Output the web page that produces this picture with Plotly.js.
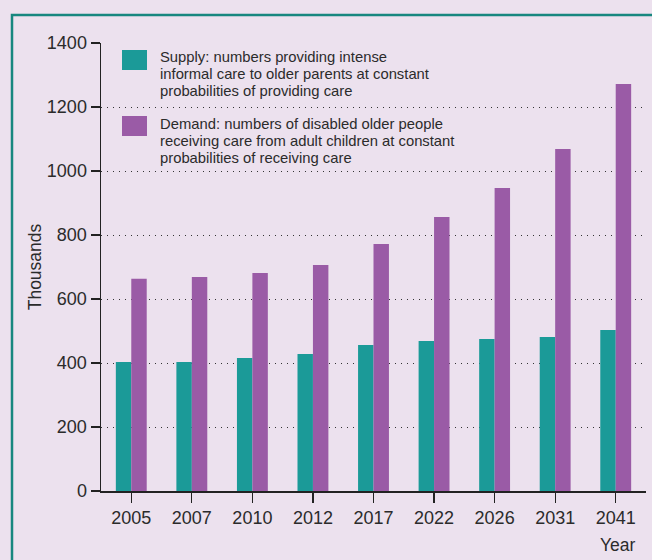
<!DOCTYPE html>
<html>
<head>
<meta charset="utf-8">
<script src="https://cdn.plot.ly/plotly-3.0.1.min.js"></script>
<style>
html,body{margin:0;padding:0;background:#ece1ee;}
#chart{width:652px;height:560px;}
</style>
</head>
<body>
<div id="chart"></div>
<script>
const years = ["2005","2007","2010","2012","2017","2022","2026","2031","2041"];
const supply = [403, 403, 416, 428, 456, 469, 475, 481, 503];
const demand = [663, 669, 681, 706, 772, 856, 947, 1069, 1272];
const supplyLines = ["Supply: numbers providing intense", "informal care to older parents at constant", "probabilities of providing care"];
const demandLines = ["Demand: numbers of disabled older people", "receiving care from adult children at constant", "probabilities of receiving care"];
const yTicks = [0, 200, 400, 600, 800, 1000, 1200, 1400];

const W = 652, H = 560;
const L = 101, R = 6, T = 43, B = 69;
const pw = W - L - R, ph = H - T - B;
const px = x => (x - L) / pw;
const py = y => (H - B - y) / ph;

const teal = "#1b9a98", purple = "#9a5ba6", textCol = "#2b2b2b";

const data = [
  {type: "bar", x: years, y: supply, name: "Supply", marker: {color: teal}, showlegend: false, hoverinfo: "x+y"},
  {type: "bar", x: years, y: demand, name: "Demand", marker: {color: purple}, showlegend: false, hoverinfo: "x+y"}
];

const legendAnn = [];
supplyLines.forEach((t, i) => legendAnn.push({
  xref: "paper", yref: "paper", x: px(158), y: py(57 + 17 * i), xanchor: "left", yanchor: "middle", align: "left",
  text: t, showarrow: false, font: {size: 14.8, color: textCol}
}));
demandLines.forEach((t, i) => legendAnn.push({
  xref: "paper", yref: "paper", x: px(158), y: py(124 + 17 * i), xanchor: "left", yanchor: "middle", align: "left",
  text: t, showarrow: false, font: {size: 14.8, color: textCol}
}));

const layout = {
  width: W, height: H,
  margin: {l: L, r: R, t: T, b: B, pad: 0},
  paper_bgcolor: "#ece1ee",
  plot_bgcolor: "#ece1ee",
  font: {family: "Liberation Sans, Arial, sans-serif", size: 18, color: textCol},
  barmode: "group",
  bargap: 0.49,
  bargroupgap: 0,
  xaxis: {
    type: "category",
    range: [-0.5, 8.5],
    showline: true, linecolor: "#222", linewidth: 1.5,
    ticks: "outside", ticklen: 10, tickcolor: "#222", tickwidth: 1.2,
    showgrid: false, zeroline: false,
    tickfont: {size: 18, color: textCol}
  },
  yaxis: {
    range: [0, 1400],
    tickvals: yTicks,
    showline: true, linecolor: "#222", linewidth: 1.5,
    ticks: "outside", ticklen: 9, tickcolor: "#222", tickwidth: 1.2,
    showgrid: true, gridcolor: "#333", gridwidth: 1, griddash: "1px,5px",
    zeroline: false,
    tickfont: {size: 18, color: textCol},
    title: {text: "Thousands", font: {size: 17.5, color: textCol}, standoff: 0}
  },
  shapes: [
    {type: "rect", xref: "paper", yref: "paper", x0: px(12), x1: px(700), y0: py(15), y1: py(620),
     line: {color: "#17877f", width: 2.5}, fillcolor: "rgba(0,0,0,0)", layer: "above"},
    {type: "rect", xref: "paper", yref: "paper", x0: px(122), x1: px(147), y0: py(50), y1: py(70),
     line: {width: 0}, fillcolor: teal},
    {type: "rect", xref: "paper", yref: "paper", x0: px(122), x1: px(147), y0: py(116), y1: py(136),
     line: {width: 0}, fillcolor: purple}
  ],
  annotations: legendAnn.concat([
    {xref: "paper", yref: "paper", x: px(638), y: py(545), xanchor: "right", yanchor: "middle",
     text: "Year", showarrow: false, font: {size: 17.5, color: textCol}}
  ])
};

Plotly.newPlot("chart", data, layout, {displayModeBar: false, staticPlot: true});
</script>
</body>
</html>
